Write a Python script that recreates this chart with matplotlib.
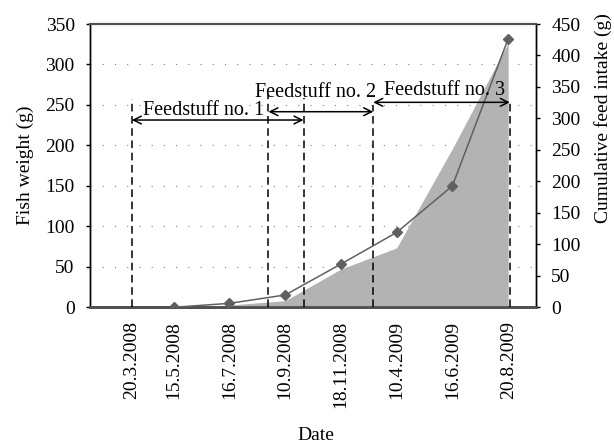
import matplotlib.pyplot as plt

plt.rcParams['font.family'] = ['Liberation Serif', 'DejaVu Serif']
plt.rcParams['font.size'] = 14

dates = ["20.3.2008", "15.5.2008", "16.7.2008", "10.9.2008",
         "18.11.2008", "10.4.2009", "16.6.2009", "20.8.2009"]
date_pos = [0.25, 1, 2, 3, 4, 5, 6, 7]

# sampling dates 15.5.2008 .. 20.8.2009
sample_pos = [1, 2, 3, 4, 5, 6, 7]
fish_weight = [0, 4.9, 15.2, 53.4, 92.5, 150, 331.7]   # g, left axis
feed_intake = [0, 3.6, 10.5, 60.7, 94.5, 252, 420]      # g, right axis

# feed changes (x position, top of dashed line in right axis units)
change_pos = [0.25, 2.7, 3.33, 4.58, 7.03]
change_top = [331, 337, 333, 322, 329]

# feeding periods: label, start, end, arrow height, label x, label y
periods = [
    ("Feedstuff no. 1", 0.25, 3.33, 297.5, 1.53, 305),
    ("Feedstuff no. 2", 2.7, 4.58, 310.7, 3.55, 334.5),
    ("Feedstuff no. 3", 4.58, 7.03, 325.6, 5.85, 337),
]

fig = plt.figure(figsize=(6.14, 4.43), dpi=100)
ax1 = fig.add_axes([0.1466, 0.3063, 0.7264, 0.6395])
ax2 = ax1.twinx()

ax1.set_xticks(date_pos)
ax1.set_xticklabels(dates, rotation=90)
ax1.tick_params(axis='x', length=0, pad=10)
ax1.tick_params(axis='y', length=3, width=1, pad=8, direction='out')
ax2.tick_params(axis='y', length=3, width=1, pad=8, direction='out')
ax1.set_yticks(range(0, 351, 50))
ax2.set_yticks(range(0, 451, 50))

for h in range(50, 301, 50):
    ax1.axhline(h, color='#808080', lw=0.8, ls=(0, (1, 10)), zorder=0)

for ax in (ax1, ax2):
    ax.spines['top'].set_color('#505050')
    ax.spines['top'].set_linewidth(1.5)
    ax.spines['bottom'].set_color('#505050')
    ax.spines['bottom'].set_linewidth(2)
    ax.spines['left'].set_linewidth(1)
    ax.spines['right'].set_linewidth(1)

# cumulative feed intake area (right axis)
ax2.fill_between(sample_pos, feed_intake, 0, color='#b3b3b3', lw=0, zorder=1)

# feed change markers
for x, top in zip(change_pos, change_top):
    ax2.plot([x, x], [0, top], color='black', lw=1.1, ls=(0, (5, 3)), zorder=3)

# fish weight (left axis)
ax2.plot(sample_pos, fish_weight, transform=ax1.transData, color='#606060',
         lw=1.1, marker='D', ms=5, mfc='#606060', mec='#606060', zorder=4)

for label, x0, x1, y, tx, ty in periods:
    ax2.annotate("", xy=(x1, y), xytext=(x0, y),
                 arrowprops=dict(arrowstyle='<->', color='black', lw=1.1,
                                 shrinkA=0, shrinkB=0, mutation_scale=14),
                 zorder=5)
    ax2.text(tx, ty, label, ha='center', va='baseline', fontsize=14.5, zorder=6)

ax1.set_xlim(-0.5, 7.5)
ax1.set_ylim(0, 350)
ax2.set_ylim(0, 450)

ax1.set_ylabel("Fish weight (g)", va='center')
ax1.yaxis.set_label_coords(-0.146, 0.5)
ax2.set_ylabel("Cumulative feed intake (g)", va='center')
ax2.yaxis.set_label_coords(1.15, 0.668)
ax1.set_xlabel("Date", va='center')
ax1.xaxis.set_label_coords(0.506, -0.451)

fig.savefig("out.png", dpi=100)
